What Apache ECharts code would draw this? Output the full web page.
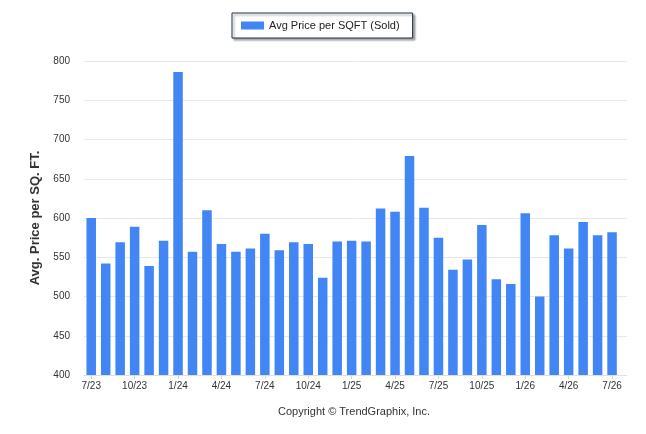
<!DOCTYPE html>
<html>
<head>
<meta charset="utf-8">
<script src="https://cdn.jsdelivr.net/npm/echarts@6/dist/echarts.min.js"></script>
<style>
  html, body { margin: 0; padding: 0; background: #fff; }
  #chart { width: 646px; height: 434px; }
</style>
</head>
<body>
<div id="chart"></div>
<script>
// 月份（7/23 ~ 7/26），每三个月显示一个标签
var months = ['7/23', '8/23', '9/23', '10/23', '11/23', '12/23',
    '1/24', '2/24', '3/24', '4/24', '5/24', '6/24',
    '7/24', '8/24', '9/24', '10/24', '11/24', '12/24',
    '1/25', '2/25', '3/25', '4/25', '5/25', '6/25',
    '7/25', '8/25', '9/25', '10/25', '11/25', '12/25',
    '1/26', '2/26', '3/26', '4/26', '5/26', '6/26', '7/26'];
// 每平方英尺成交均价
var avgPrice = [600, 542, 569, 589, 539, 571,
    786, 557, 610, 567, 557, 561,
    580, 559, 569, 567, 524, 570,
    571, 570, 612, 608, 679, 613,
    575, 534, 547, 591, 522, 516,
    606, 500, 578, 561, 595, 578, 582];
var seriesName = 'Avg Price per SQFT (Sold)';
var yMin = 400, yMax = 800, yStep = 50;

var chart = echarts.init(document.getElementById('chart'));
var font = 'Tahoma, "Liberation Sans", Arial, sans-serif';

var option = {
    animation: false,
    textStyle: { fontFamily: font },
    title: {
        text: 'Copyright © TrendGraphix, Inc.',
        left: 273,
        top: 401,
        textStyle: { fontSize: 11, fontWeight: 'normal', color: '#333', fontFamily: font }
    },
    legend: {
        data: [seriesName],
        left: 232,
        top: 13,
        padding: [7, 13, 7, 9],
        itemWidth: 23,
        itemHeight: 8,
        borderColor: '#1e2d4d',
        borderWidth: 1,
        backgroundColor: '#fff',
        shadowColor: 'rgba(0,0,0,0.35)',
        shadowBlur: 2,
        shadowOffsetX: 2,
        shadowOffsetY: 2,
        icon: 'rect',
        textStyle: { fontSize: 11, color: '#222', fontFamily: font }
    },
    // 第一个grid放柱子，第二个grid只画网格线和y轴
    grid: [
        { left: 84, right: 26.7, top: 61, bottom: 59 },
        { left: 84, right: 19, top: 61, bottom: 59 }
    ],
    xAxis: [
        {
            type: 'category',
            gridIndex: 0,
            data: months,
            axisLine: { show: false },
            axisTick: { show: true, interval: 2, alignWithLabel: true, length: 4, lineStyle: { color: '#d8d8d8' } },
            axisLabel: { interval: 2, color: '#333', fontSize: 10, margin: 6, fontFamily: font },
            splitLine: { show: false }
        },
        {
            type: 'value',
            gridIndex: 1,
            min: 0,
            max: 1,
            axisLine: { show: true, lineStyle: { color: '#e0e0e0' } },
            axisTick: { show: false },
            axisLabel: { show: false },
            splitLine: { show: false }
        }
    ],
    yAxis: [
        {
            type: 'value',
            gridIndex: 0,
            min: yMin,
            max: yMax,
            show: false
        },
        {
            type: 'value',
            gridIndex: 1,
            min: yMin,
            max: yMax,
            interval: yStep,
            name: 'Avg. Price per SQ. FT.',
            nameLocation: 'middle',
            nameGap: 35,
            nameTextStyle: { fontSize: 13, fontWeight: 'bold', color: '#333', fontFamily: font },
            axisLine: { show: false },
            axisTick: { show: false },
            axisLabel: { color: '#333', fontSize: 10, margin: 14, fontFamily: font },
            splitLine: { show: true, lineStyle: { color: '#e8e8e8' } }
        }
    ],
    series: [
        {
            name: seriesName,
            type: 'bar',
            xAxisIndex: 0,
            yAxisIndex: 0,
            data: avgPrice,
            barWidth: 9.5,
            itemStyle: { color: '#4285F4' }
        }
    ]
};

chart.setOption(option);
</script>
</body>
</html>
